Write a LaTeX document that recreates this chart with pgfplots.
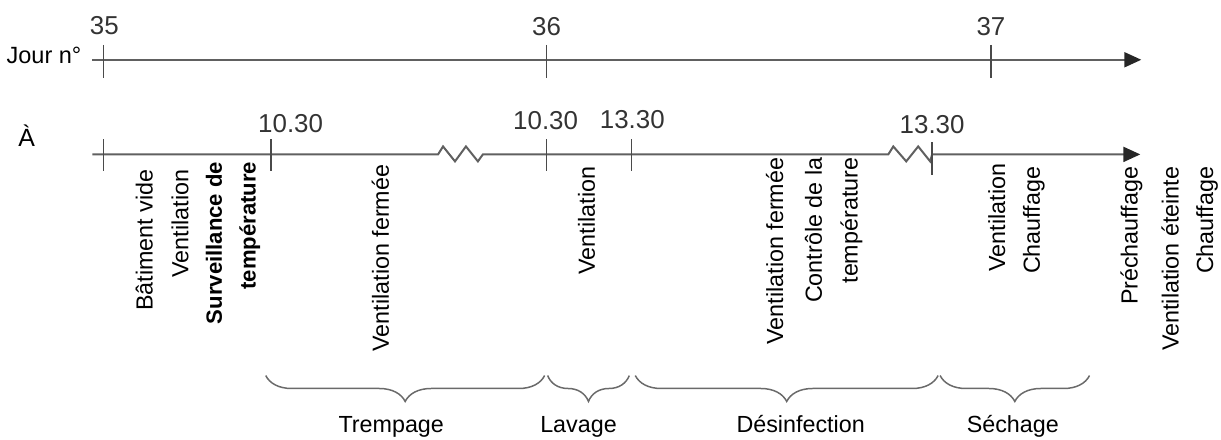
\documentclass[border=0pt]{standalone}
\usepackage{pgfplots}
\pgfplotsset{compat=1.18}
\usepackage{fontspec}
\setmainfont{Liberation Sans}
\usetikzlibrary{arrows.meta,decorations.pathreplacing}
\definecolor{ln}{HTML}{606060}
\definecolor{tk}{HTML}{4A4A4A}
\definecolor{br}{HTML}{6A6A6A}
\definecolor{num}{HTML}{333333}
\begin{document}
\begin{tikzpicture}
\begin{axis}[
  width=610.5pt, height=220.5pt, scale only axis,
  xmin=0, xmax=1221, ymin=0, ymax=441, y dir=reverse,
  enlargelimits=false, hide axis, clip=false,
  every node/.append style={inner sep=0pt, outer sep=0pt},
]
% frame (invisible) to fix the picture size
\addplot[draw=none] coordinates {(0,0) (1221,441)};
% top axis
\addplot[ln, line width=1pt, -{Triangle[length=8.5pt,width=7.5pt,color=black!85]}] coordinates {(88,60) (1141,60)};
\addplot[tk, line width=0.8pt] coordinates {(99,45) (99,78)};
\addplot[tk, line width=0.8pt] coordinates {(544,45) (544,78)};
\addplot[tk, line width=0.8pt] coordinates {(990,45) (990,78)};
% bottom axis with zigzags
\addplot[ln, line width=1pt, -{Triangle[length=8.5pt,width=7.5pt,color=black!85]}] coordinates {
 (88,155) (435,155) (440,147) (452,162) (463,147) (475,162) (480,155)
 (887,155) (892,147) (905,162) (917,147) (929,162) (931,155) (1140,155)};
\addplot[tk, line width=0.8pt] coordinates {(99,140) (99,172)};
\addplot[tk, line width=0.8pt] coordinates {(267,140) (267,172)};
\addplot[tk, line width=0.8pt] coordinates {(544,140) (544,172)};
\addplot[tk, line width=0.8pt] coordinates {(629,140) (629,172)};
\addplot[tk, line width=0.8pt] coordinates {(931,143) (931,176)};
% braces
\addplot[br, line width=0.75pt, decorate, decoration={brace, mirror, amplitude=13pt}] coordinates {(262,377) (542,377)};
\addplot[br, line width=0.75pt, decorate, decoration={brace, mirror, amplitude=13pt}] coordinates {(545,377) (627,377)};
\addplot[br, line width=0.75pt, decorate, decoration={brace, mirror, amplitude=13pt}] coordinates {(633,377) (937,377)};
\addplot[br, line width=0.75pt, decorate, decoration={brace, mirror, amplitude=13pt}] coordinates {(939,377) (1089,377)};
% numbers
\begin{scope}[every node/.style={font=\fontsize{13}{15}\selectfont, text=num, inner sep=0pt}]
\node at (axis cs:100,26) {35};
\node at (axis cs:544,27) {36};
\node at (axis cs:990,27) {37};
\node at (axis cs:287,124) {10.30};
\node at (axis cs:543,121) {10.30};
\node at (axis cs:630,120) {13.30};
\node at (axis cs:931,125) {13.30};
\end{scope}
\node[font=\fontsize{11.8}{14}\selectfont, anchor=east] at (axis cs:84,56) {Jour n°};
\node[font=\fontsize{12.5}{14}\selectfont] at (axis cs:22,136) {À};
% rotated labels
\begin{scope}[every node/.style={font=\fontsize{11.7}{14}\selectfont, rotate=90, anchor=east, inner sep=0pt}]
\node at (axis cs:140,170) {Bâtiment vide};
\node at (axis cs:176,170) {Ventilation};
\node[font=\fontsize{11.1}{13}\selectfont\bfseries] at (axis cs:210,162) {Surveillance de};
\node[font=\fontsize{11.1}{13}\selectfont\bfseries] at (axis cs:246,162) {température};
\node at (axis cs:377,165) {Ventilation fermée};
\node at (axis cs:584,167) {Ventilation};
\node at (axis cs:773,158) {Ventilation fermée};
\node at (axis cs:812,158) {Contrôle de la};
\node at (axis cs:850,158) {température};
\node at (axis cs:996,164) {Ventilation};
\node at (axis cs:1033,167) {Chauffage};
\node at (axis cs:1131,167) {Préchauffage};
\node at (axis cs:1170,167) {Ventilation éteinte};
\node at (axis cs:1207,167) {Chauffage};
\end{scope}
% phase labels
\begin{scope}[every node/.style={font=\fontsize{11.7}{14}\selectfont, anchor=base, inner sep=0pt}]
\node at (axis cs:388,434) {Trempage};
\node at (axis cs:576,434) {Lavage};
\node at (axis cs:799,434) {Désinfection};
\node at (axis cs:1012,434) {Séchage};
\end{scope}
\end{axis}
\end{tikzpicture}
\end{document}
